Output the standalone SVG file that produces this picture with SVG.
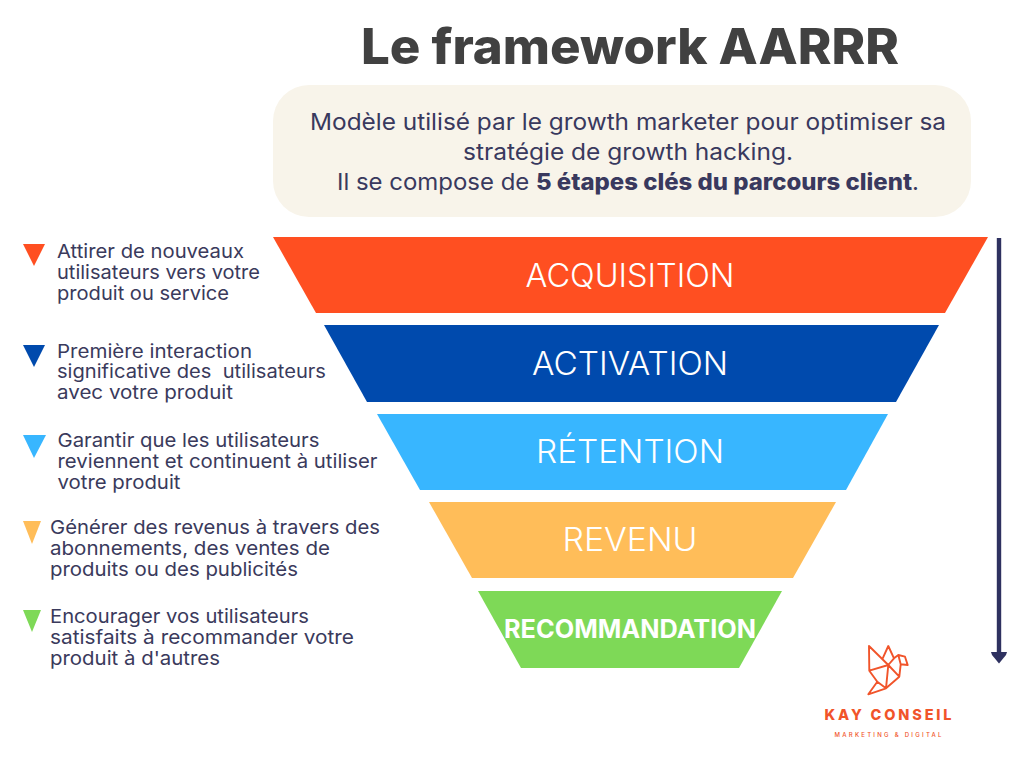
<svg xmlns="http://www.w3.org/2000/svg" width="1024" height="768" viewBox="0 0 1024 768">
<style>
text{font-family:"Inter","Noto Sans","Liberation Sans",sans-serif}
.d{font-size:19px;fill:#3a3a5c}
.t{font-size:18.5px}
.i{font-size:22.5px;fill:#39395e;text-anchor:middle}
.l{fill:#fff;text-anchor:middle;font-size:32px;font-weight:300}
.b{font-weight:800}
.logo{fill:none;stroke:#f1542a;stroke-width:1.9;stroke-linejoin:round}
</style>
<rect width="1024" height="768" fill="#fff"/>
<g id="title"><text x="630" y="64" text-anchor="middle" font-size="49" font-weight="800" fill="#414141" textLength="538" lengthAdjust="spacingAndGlyphs">Le framework AARRR</text></g>
<g id="intro">
<rect x="273" y="85" width="698" height="132" rx="36" fill="#f8f4ea"/>
<text class="i" x="628" y="130" textLength="636" lengthAdjust="spacingAndGlyphs">Modèle utilisé par le growth marketer pour optimiser sa</text>
<text class="i" x="628" y="160" textLength="330" lengthAdjust="spacingAndGlyphs">stratégie de growth hacking.</text>
<text class="i" x="628" y="190" textLength="582" lengthAdjust="spacingAndGlyphs">Il se compose de <tspan class="b">5 étapes clés du parcours client</tspan>.</text>
</g>
<g id="acquisition"><polygon points="273,237 988,237 945,313 316,313" fill="#ff4f21"/><text class="l" x="630" y="287" textLength="209" lengthAdjust="spacingAndGlyphs">ACQUISITION</text></g>
<g id="activation"><polygon points="324,325 939,325 896,402 367,402" fill="#004aad"/><text class="l" x="630" y="375" textLength="196" lengthAdjust="spacingAndGlyphs">ACTIVATION</text></g>
<g id="retention"><polygon points="377,414 888,414 846,490 420,490" fill="#38b6ff"/><text class="l" x="630" y="463" textLength="188" lengthAdjust="spacingAndGlyphs">RÉTENTION</text></g>
<g id="revenu"><polygon points="429,502 836,502 793,578 472,578" fill="#ffbd59"/><text class="l" x="630" y="551" textLength="135" lengthAdjust="spacingAndGlyphs">REVENU</text></g>
<g id="recommandation"><polygon points="478,591 782,591 739,668 521,668" fill="#7ed957"/><text class="l" x="630" y="638" style="font-size:25px;font-weight:700" textLength="252" lengthAdjust="spacingAndGlyphs">RECOMMANDATION</text></g>
<g id="note1"><polygon points="23,244 45,244 34,266" fill="#ff4f21"/>
<text class="d" x="57" y="258" textLength="187" lengthAdjust="spacingAndGlyphs">Attirer de nouveaux</text><text class="d" x="57" y="279" textLength="203" lengthAdjust="spacingAndGlyphs">utilisateurs vers votre</text><text class="d" x="57" y="300" textLength="172" lengthAdjust="spacingAndGlyphs">produit ou service</text></g>
<g id="note2"><polygon points="23,345 45,345 34,367" fill="#004aad"/>
<text class="d t" x="57" y="357.5" textLength="195" lengthAdjust="spacingAndGlyphs">Première interaction</text><text class="d t" x="57" y="378" xml:space="preserve" textLength="269" lengthAdjust="spacingAndGlyphs">significative des  utilisateurs</text><text class="d t" x="57" y="398.5" textLength="176" lengthAdjust="spacingAndGlyphs">avec votre produit</text></g>
<g id="note3"><polygon points="23,435 46,435 34,458" fill="#38b6ff"/>
<text class="d" x="57.5" y="447" textLength="262" lengthAdjust="spacingAndGlyphs">Garantir que les utilisateurs</text><text class="d" x="57.5" y="468" textLength="320" lengthAdjust="spacingAndGlyphs">reviennent et continuent à utiliser</text><text class="d" x="57.5" y="489" textLength="123" lengthAdjust="spacingAndGlyphs">votre produit</text></g>
<g id="note4"><polygon points="23,521 41,521 32,544" fill="#ffbd59"/>
<text class="d" x="50" y="534" textLength="330" lengthAdjust="spacingAndGlyphs">Générer des revenus à travers des</text><text class="d" x="50" y="555" textLength="280" lengthAdjust="spacingAndGlyphs">abonnements, des ventes de</text><text class="d" x="50" y="576" textLength="248" lengthAdjust="spacingAndGlyphs">produits ou des publicités</text></g>
<g id="note5"><polygon points="23,610 41,610 32,632" fill="#7ed957"/>
<text class="d" x="50" y="623" textLength="259" lengthAdjust="spacingAndGlyphs">Encourager vos utilisateurs</text><text class="d" x="50" y="644" textLength="304" lengthAdjust="spacingAndGlyphs">satisfaits à recommander votre</text><text class="d" x="50" y="665" textLength="170" lengthAdjust="spacingAndGlyphs">produit à d'autres</text></g>
<g id="connectors"><line x1="999" y1="238" x2="999" y2="654" stroke="#2e3160" stroke-width="4.4"/><polygon points="991,652 1007,652 1006,655 999,663.5 992,655" fill="#2e3160"/></g>
<g id="logo">
<path class="logo" d="M869 646L869.3 670.7L888.3 665ZM882.7 658.3L888.3 646L894 658.3L888.3 665M894 658.3L898.3 655L905 656.7L907.7 665L900.7 664.3L899.3 676.7L886 688.3L868.3 694.3L877.3 681.7L869.3 670.7M888.3 665L886 688.3M888.3 665L899.3 676.7M877.3 681.7L886 688.3M898.3 655L900.7 664.3"/>
<text x="888" y="720" text-anchor="middle" font-size="14.5" font-weight="800" fill="#f1542a" textLength="127" lengthAdjust="spacing">KAY CONSEIL</text>
<text x="888" y="737" text-anchor="middle" font-size="6" font-weight="500" fill="#f1542a" textLength="107" lengthAdjust="spacing">MARKETING &amp; DIGITAL</text>
</g>
</svg>
